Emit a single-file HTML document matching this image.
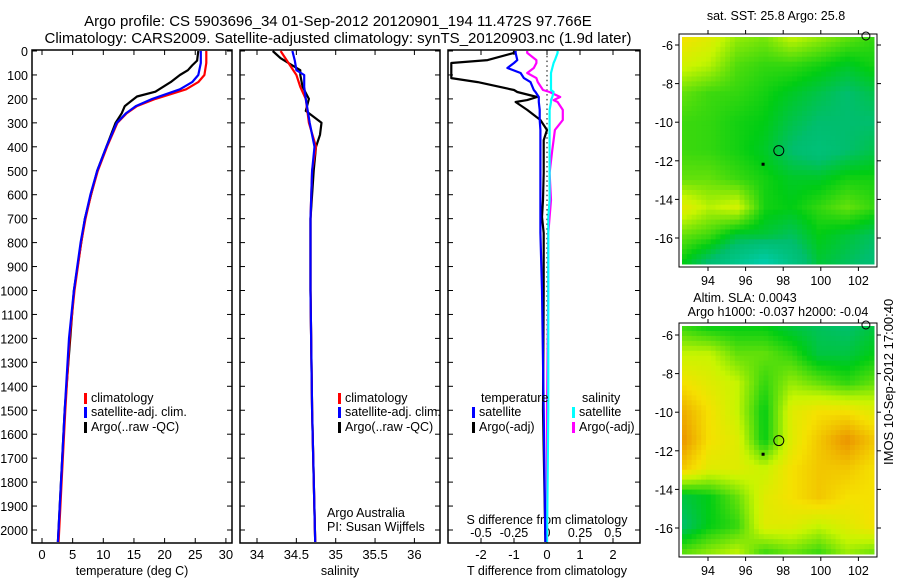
<!DOCTYPE html>
<html><head><meta charset="utf-8"><style>
body{margin:0;background:#fff}
svg{display:block;font-family:"Liberation Sans",sans-serif}
</style></head><body>
<svg id="c" width="900" height="580" xmlns="http://www.w3.org/2000/svg">
<rect width="900" height="580" fill="#fff"/>
<text x="338" y="26" font-size="15" text-anchor="middle">Argo profile: CS 5903696_34 01-Sep-2012 20120901_194 11.472S 97.766E</text>
<text x="338" y="43" font-size="15" text-anchor="middle">Climatology: CARS2009. Satellite-adjusted climatology: synTS_20120903.nc (1.9d later)</text>
<g id="g"></g>
<text transform="translate(893,465) rotate(-90)" font-size="13">IMOS 10-Sep-2012 17:00:40</text>
</svg>
<script>
// ---------- data ----------
const depthTicks=[0,100,200,300,400,500,600,700,800,900,1000,1100,1200,1300,1400,1500,1600,1700,1800,1900,2000];
const tTicks=[0,5,10,15,20,25,30];
const sTicks=[34,34.5,35,35.5,36];
const dTTicks=[-2,-1,0,1,2];
const dSTicks=[-0.5,-0.25,0,0.25,0.5];
const dSTickLabels=["-0.5","-0.25","0","0.25","0.5"];
const tClimDepth=[0,50,100,130,160,200,230,260,300,400,500,600,700,800,1000,1200,1500,1800,2050];
const tClim=[26.8,26.8,26.5,25.5,23.5,18.5,15.5,13.8,12.3,10.6,9.1,8.0,7.1,6.4,5.3,4.5,3.8,3.2,2.7];
const tSat=[25.9,25.9,25.5,24.5,22.5,18,15.3,13.7,12.2,10.5,9.0,7.9,7.0,6.3,5.2,4.4,3.7,3.1,2.6];
const tArgoDepth=[0,20,40,60,80,100,130,170,190,210,230,260,300,400,500,700,1000,1500,2050];
const tArgo=[25.5,25.4,25.3,24.5,23.8,22.5,21,18.5,15.5,14.5,13.5,13.0,12.0,10.5,9.0,7.0,5.2,3.7,2.6];
const sClimDepth=[0,50,100,150,200,300,400,500,700,1000,1500,2050];
const sClim=[34.3,34.4,34.5,34.55,34.62,34.66,34.75,34.7,34.68,34.68,34.7,34.74];
const sSatDepth=[0,40,80,100,150,200,300,400,500,700,1000,1500,2050];
const sSat=[34.45,34.48,34.5,34.6,34.6,34.62,34.67,34.73,34.7,34.68,34.68,34.7,34.74];
const sArgoDepth=[0,30,60,80,100,150,200,250,300,350,400,500,600,700,1000,1500,2050];
const sArgo=[34.2,34.3,34.45,34.55,34.55,34.58,34.66,34.62,34.82,34.8,34.75,34.72,34.7,34.68,34.68,34.7,34.74];
const dDepth=[0,8,38,50,71,92,113,130,163,171,192,205,213,246,288,330,372,413,509,622,693,760,1000,1500,2050];
const dTArgo=[-1.0,-1.0,-1.8,-2.9,-2.9,-2.9,-2.9,-2.1,-1.0,-0.9,-0.3,-0.6,-0.95,-0.6,-0.2,0,-0.1,-0.1,-0.1,-0.12,-0.15,-0.1,-0.1,-0.12,-0.05];
const dTSat=[-0.95,-0.95,-0.9,-1.0,-1.2,-0.8,-0.7,-0.5,-0.4,-0.35,-0.25,-0.25,-0.25,-0.22,-0.22,-0.2,-0.2,-0.2,-0.2,-0.2,-0.2,-0.2,-0.15,-0.1,-0.05];
const dSArgo=[-0.15,-0.15,-0.08,-0.08,-0.1,-0.15,-0.08,-0.07,-0.03,0.02,0.1,0.05,0.08,0.12,0.12,0.06,0.05,0.04,0.02,0.03,0.02,0.01,0.01,0,0];
const dSSat=[0.08,0.08,0.06,0.05,0.04,0.03,0.03,0.03,0.03,0.05,0.04,0.03,0.03,0.02,0.02,0.02,0.02,0.02,0.02,0.02,0.01,0.01,0.01,0.01,0];
const lonTicks=[94,96,98,100,102];
const latTicks=[-6,-8,-10,-12,-14,-16];
const sstGrid=[
[.8,.75,.65,.62,.7,.65,.6,.55],
[.72,.68,.58,.55,.55,.52,.48,.52],
[.6,.56,.55,.52,.48,.44,.4,.44],
[.56,.55,.52,.5,.44,.4,.4,.4],
[.56,.55,.52,.48,.4,.36,.4,.44],
[.6,.6,.56,.52,.48,.48,.52,.52],
[.76,.68,.72,.52,.5,.55,.6,.55],
[.6,.56,.46,.46,.42,.5,.46,.42],
[.5,.38,.28,.15,.32,.46,.42,.38]];
const slaGrid=[
[.55,.5,.5,.5,.45,.42,.4,.45],
[.7,.7,.6,.6,.55,.45,.45,.5],
[.8,.75,.7,.55,.65,.6,.55,.6],
[.9,.8,.7,.5,.75,.8,.8,.75],
[.95,.8,.75,.5,.75,.85,.95,.85],
[.85,.75,.75,.7,.8,.85,.85,.8],
[.45,.5,.6,.75,.8,.85,.8,.8],
[.4,.5,.55,.75,.75,.7,.75,.8],
[.6,.65,.7,.55,.6,.55,.65,.6]];
const argoLon=97.766, argoLat=-11.472;

// ---------- helpers ----------
const NS="http://www.w3.org/2000/svg";
const G=document.getElementById('g');
function el(t,a,p){const e=document.createElementNS(NS,t);for(const k in a)e.setAttribute(k,a[k]);(p||G).appendChild(e);return e;}
function txt(x,y,s,sz,anc,p){const e=el('text',{x:x,y:y,'font-size':sz||13,'text-anchor':anc||'middle'},p);e.textContent=s;return e;}
const Y=d=>51+d*0.2395;
const TOP=50,BOT=543;
function panel(x0,x1,name){
  const g=el('g',{});
  
  
  const r=el('rect',{x:x0,y:TOP,width:x1-x0,height:BOT-TOP,fill:'none',stroke:'#000','stroke-width':1.5},g);
  
  
  depthTicks.forEach(d=>{el('line',{x1:x0,x2:x0+5,y1:Y(d),y2:Y(d),stroke:'#000'},g);el('line',{x1:x1,x2:x1-5,y1:Y(d),y2:Y(d),stroke:'#000'},g);});
  return g;
}
function xticks(g,vals,f,labels,ly){
  vals.forEach((v,i)=>{const x=f(v);el('line',{x1:x,x2:x,y1:BOT,y2:BOT-5,stroke:'#000'},g);el('line',{x1:x,x2:x,y1:TOP,y2:TOP+5,stroke:'#000'},g);
    const t=txt(x,ly,labels?labels[i]:String(v),13,'middle',g);
    
    });
}
function line(g,xs,ds,f,col,name,w){
  const pts=xs.map((v,i)=>f(v).toFixed(1)+','+Y(ds[i]).toFixed(1)).join(' ');
  const p=el('polyline',{points:pts,fill:'none',stroke:col,'stroke-width':w||2.2,'stroke-linejoin':'round'},g);
  
  
}
function leg(g,x,y,col,label){
  el('rect',{x:x,y:y-9,width:3,height:11,fill:col},g);
  const t=txt(x+7,y,label,12.5,'start',g);
  
  
}

// ---------- panel 1: temperature ----------
const fT=v=>42+v*6.13;
const p1=panel(32,232,'temperature-panel');
depthTicks.forEach(d=>{const t=txt(28,Y(d)+5,String(d),12.5,'end');
  
  });
xticks(p1,tTicks,fT,null,559);
const xl1=txt(132,575,'temperature (deg C)',12.5);


line(p1,tArgo,tArgoDepth,fT,'#000','argo-temperature');
line(p1,tClim,tClimDepth,fT,'#f00','clim-temperature');
line(p1,tSat,tClimDepth,fT,'#00f','sat-temperature');
leg(p1,84,402,'#f00','climatology');leg(p1,84,416,'#00f','satellite-adj. clim.');leg(p1,84,431,'#000','Argo(..raw -QC)');

// ---------- panel 2: salinity ----------
const fS=v=>257+(v-34)*78.7;
const p2=panel(240,440,'salinity-panel');
xticks(p2,sTicks,fS,null,559);
const xl2=txt(340,575,'salinity',12.5);


line(p2,sArgo,sArgoDepth,fS,'#000','argo-salinity');
line(p2,sClim,sClimDepth,fS,'#f00','clim-salinity');
line(p2,sSat,sSatDepth,fS,'#00f','sat-salinity');
leg(p2,338,402,'#f00','climatology');leg(p2,338,416,'#00f','satellite-adj. clim.');leg(p2,338,431,'#000','Argo(..raw -QC)');
txt(327,517,'Argo Australia',12.5,'start',p2);txt(327,531,'PI: Susan Wijffels',12.5,'start',p2);

// ---------- panel 3: differences ----------
const fDT=v=>547+v*33, fDS=v=>547+v*132;
const p3=panel(448,640,'difference-panel');
xticks(p3,dTTicks,fDT,null,559);
dSTicks.forEach((v,i)=>{const t=txt(fDS(v),537,dSTickLabels[i],12.5,'middle',p3);
  
  });
txt(547,524,'S difference from climatology',12.5,'middle',p3);
const xl3=txt(547,575,'T difference from climatology',12.5);


for(let d=0;d<=2050;d+=20)el('rect',{x:546.5,y:Y(d),width:1,height:1.5,fill:'#000'},p3);
line(p3,dTArgo,dDepth,fDT,'#000','argo-t-diff');
line(p3,dSArgo,dDepth,fDS,'#f0f','argo-s-diff');
line(p3,dSSat,dDepth,fDS,'#0ff','sat-s-diff');
line(p3,dTSat,dDepth,fDT,'#00f','sat-t-diff');
txt(481,402,'temperature',12.5,'start',p3);txt(582,402,'salinity',12.5,'start',p3);
leg(p3,472,416,'#00f','satellite');leg(p3,472,431,'#000','Argo(-adj)');
leg(p3,572,416,'#0ff','satellite');leg(p3,572,431,'#f0f','Argo(-adj)');

// ---------- maps ----------
const cmap=[[0,[0,215,215]],[0.4,[0,190,110]],[0.5,[0,205,20]],[0.7,[200,245,0]],[0.8,[245,225,0]],[1,[232,120,0]]];
function col(v){for(let i=1;i<cmap.length;i++){if(v<=cmap[i][0]){const a=cmap[i-1],b=cmap[i],t=(v-a[0])/(b[0]-a[0]);
  return 'rgb('+a[1].map((c,k)=>Math.round(c+(b[1][k]-c)*t)).join(',')+')';}}return 'rgb(232,120,0)';}
function map(grid,y0,y1,lat6y,name){
  const x0=679,x1=877;
  const g=el('g',{});
  
  
  const fx=lo=>708+(lo-94)*18.8, fy=la=>lat6y+(-6-la)*19.3;
  const ix0=x0+3,ix1=x1-3,iy0=y0+3,iy1=y1-3,nc=40,nr=46;
  const R=grid.length,C=grid[0].length,cw=(ix1-ix0)/nc,ch=(iy1-iy0)/nr;
  for(let r=0;r<nr;r++)for(let c=0;c<nc;c++){
    const gy=(r+0.5)/nr*(R-1),gx=(c+0.5)/nc*(C-1);
    const r0=Math.floor(gy),c0=Math.floor(gx),r1=Math.min(r0+1,R-1),c1=Math.min(c0+1,C-1),ty=gy-r0,tx=gx-c0;
    const v=(grid[r0][c0]*(1-tx)+grid[r0][c1]*tx)*(1-ty)+(grid[r1][c0]*(1-tx)+grid[r1][c1]*tx)*ty;
    const cell=el('rect',{x:(ix0+c*cw).toFixed(2),y:(iy0+r*ch).toFixed(2),width:(cw+0.5).toFixed(2),height:(ch+0.5).toFixed(2),fill:col(v)},g);
    
    
  }
  el('rect',{x:x0,y:y0,width:x1-x0,height:y1-y0,fill:'none',stroke:'#000'},g);
  lonTicks.forEach(lo=>{const x=fx(lo);el('line',{x1:x,x2:x,y1:y0,y2:y0-4,stroke:'#000'},g);el('line',{x1:x,x2:x,y1:y1,y2:y1+4,stroke:'#000'},g);txt(x,y1+18,String(lo),12.5,'middle',g);});
  latTicks.forEach(la=>{const y=fy(la);el('line',{x1:x0,x2:x0-4,y1:y,y2:y,stroke:'#000'},g);el('line',{x1:x1,x2:x1+4,y1:y,y2:y,stroke:'#000'},g);txt(x0-6,y+5,String(la),12.5,'end',g);});
  const m=el('circle',{cx:fx(argoLon),cy:fy(argoLat),r:5,fill:'none',stroke:'#000'},g);
  
  
  el('rect',{x:fx(96.85),y:fy(-12.1),width:3,height:3,fill:'#000'},g);
  el('circle',{cx:fx(102.4),cy:y0+2,r:4,fill:'none',stroke:'#000'},g);
}
map(sstGrid,34,267,45,'sst-map');
map(slaGrid,323,557,335,'sla-map');
txt(776,20,'sat. SST: 25.8 Argo: 25.8',12.5);
txt(745,302,'Altim. SLA: 0.0043',12.5);
txt(778,316,'Argo h1000: -0.037 h2000: -0.04',12.5);
</script>
</body></html>
